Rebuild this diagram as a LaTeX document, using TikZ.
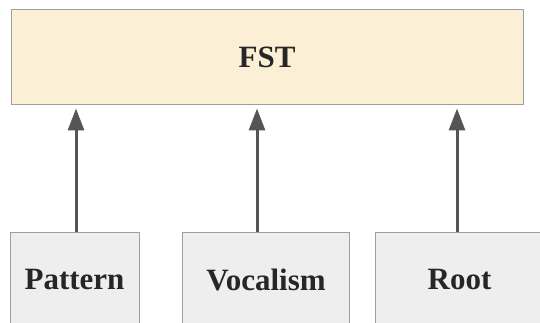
\documentclass[tikz,border=0pt]{standalone}
\usepackage{fontspec}
\setmainfont{Liberation Serif}
\usetikzlibrary{arrows.meta}

\definecolor{fstfill}{HTML}{FBF0D6}
\definecolor{partfill}{HTML}{EEEEEE}
\definecolor{boxline}{HTML}{9E9E9E}
\definecolor{arrline}{HTML}{555555}

\begin{document}
\begin{tikzpicture}[x=1pt, y=-1pt,
    box/.style={draw=boxline, line width=1pt, minimum height=95pt,
        inner sep=0pt, text=black!85, font=\fontsize{31}{36}\selectfont\bfseries},
    feed/.style={draw=arrline, line width=3pt,
        -{Triangle[length=22pt, width=16pt]}, shorten >=3pt}]
    % Clip to picture size
    \clip (0,0) rectangle (540,323);

    % Draw Top Box
    \node[box, fill=fstfill, minimum width=512pt] (FST) at (267,57.5) {FST};

    % Draw Input Boxes
    \node[box, fill=partfill, minimum width=129pt] (Pattern) at (74.5,280) {Pattern};
    \node[box, fill=partfill, minimum width=167pt] (Vocalism) at (266,280) {Vocalism};
    \node[box, fill=partfill, minimum width=169pt] (Root) at (459.5,280) {Root};

    % Arrows into FST
    \draw[feed] ([xshift=1.5pt]Pattern.north) -- ([xshift=1.5pt]Pattern.north |- FST.south);
    \draw[feed] ([xshift=-9pt]Vocalism.north) -- ([xshift=-9pt]Vocalism.north |- FST.south);
    \draw[feed] ([xshift=-2.5pt]Root.north) -- ([xshift=-2.5pt]Root.north |- FST.south);
\end{tikzpicture}
\end{document}
